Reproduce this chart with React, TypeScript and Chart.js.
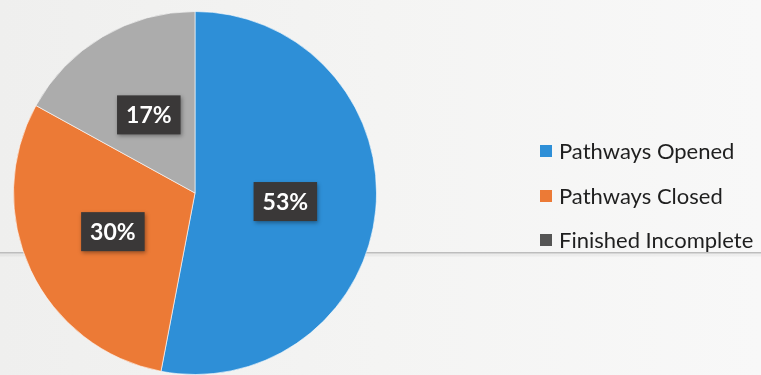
import React, { useEffect, useRef } from "react";
import { Chart, registerables } from "chart.js";

Chart.register(...registerables);

// Outcome shares, in percent
const categories = ["Pathways Opened", "Pathways Closed", "Finished Incomplete"];
const shares = [53, 30, 17];
const sliceColors = ["#2e8fd7", "#ec7a36", "#acacac"];

const WIDTH = 761;
const HEIGHT = 375;

// Thin rule running across the page behind the pie
const rulePlugin = {
  id: "rule",
  beforeDatasetsDraw(chart: any) {
    const { ctx } = chart;
    ctx.save();
    ctx.fillStyle = "#bdbdbd";
    ctx.fillRect(0, 252, WIDTH, 1.5);
    ctx.fillStyle = "rgba(0,0,0,0.04)";
    ctx.fillRect(0, 253.5, WIDTH, 3);
    ctx.restore();
  },
};

// Dark value boxes placed at each slice's centre
const valueBoxPlugin = {
  id: "valueBoxes",
  afterDatasetsDraw(chart: any) {
    const { ctx } = chart;
    const meta = chart.getDatasetMeta(0);
    const values = chart.data.datasets[0].data as number[];
    ctx.save();
    ctx.font = "bold 23px Lato, 'Open Sans', sans-serif";
    ctx.textAlign = "center";
    ctx.textBaseline = "middle";
    meta.data.forEach((arc: any, i: number) => {
      const p = arc.tooltipPosition();
      const text = `${values[i]}%`;
      const w = ctx.measureText(text).width + 18;
      const h = 39;
      ctx.save();
      ctx.shadowColor = "rgba(0,0,0,0.35)";
      ctx.shadowBlur = 4;
      ctx.shadowOffsetX = 1;
      ctx.shadowOffsetY = 2;
      ctx.fillStyle = "#3a3838";
      ctx.fillRect(p.x - w / 2, p.y - h / 2, w, h);
      ctx.restore();
      ctx.fillStyle = "#ffffff";
      ctx.fillText(text, p.x, p.y + 1);
    });
    ctx.restore();
  },
};

// Legend drawn to the right of the pie
const sideLegendPlugin = {
  id: "sideLegend",
  afterDraw(chart: any) {
    const { ctx } = chart;
    const labels = chart.data.labels as string[];
    const colors = chart.data.datasets[0].backgroundColor as string[];
    const rows = [152, 197, 241];
    ctx.save();
    ctx.font = "22px Lato, 'Open Sans', sans-serif";
    ctx.textAlign = "left";
    ctx.textBaseline = "middle";
    labels.forEach((label, i) => {
      const y = rows[i];
      ctx.fillStyle = i === 2 ? "#555555" : colors[i];
      ctx.fillRect(540, y - 7, 12, 12);
      ctx.fillStyle = "#1f1f1f";
      ctx.fillText(label, 559, y);
    });
    ctx.restore();
  },
};

export default function App() {
  const canvasRef = useRef<HTMLCanvasElement | null>(null);

  useEffect(() => {
    if (!canvasRef.current) return;
    const chart = new Chart(canvasRef.current, {
      type: "pie",
      data: {
        labels: categories,
        datasets: [
          {
            data: shares,
            backgroundColor: sliceColors,
            borderColor: "rgba(255,255,255,0.6)",
            borderWidth: 1,
          },
        ],
      },
      options: {
        responsive: false,
        animation: false,
        layout: { padding: { left: 13, right: WIDTH - 377, top: 11, bottom: 0 } },
        plugins: {
          legend: { display: false },
          tooltip: { enabled: false },
        },
      },
      plugins: [rulePlugin, valueBoxPlugin, sideLegendPlugin],
    });
    return () => chart.destroy();
  }, []);

  return (
    <div
      style={{
        position: "fixed",
        left: 0,
        top: 0,
        width: WIDTH,
        height: HEIGHT,
        background: "linear-gradient(90deg, #efefee 0%, #f4f4f3 50%, #f8f8f8 100%)",
        overflow: "hidden",
      }}
    >
      <canvas ref={canvasRef} width={WIDTH} height={HEIGHT} style={{ display: "block" }} />
    </div>
  );
}
